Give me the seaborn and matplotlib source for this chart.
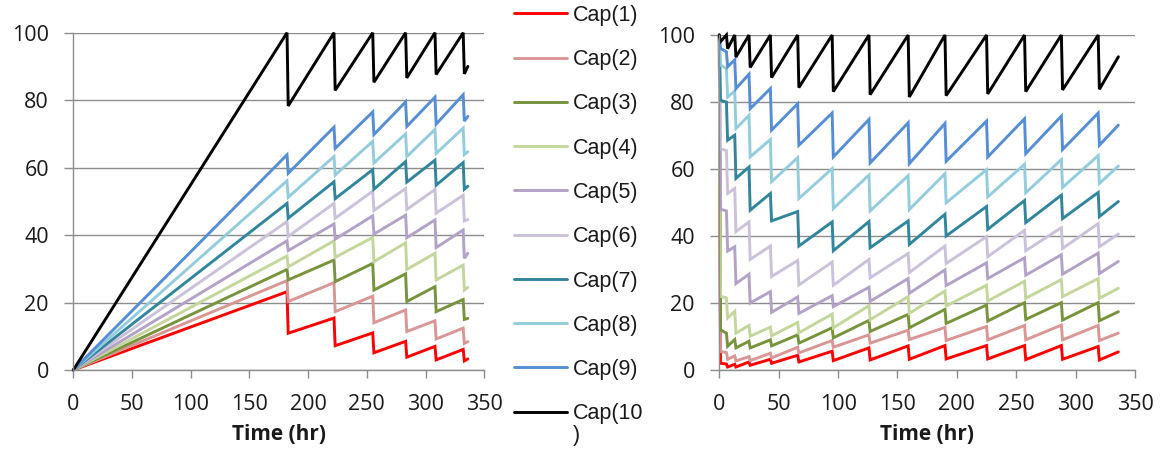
import matplotlib
matplotlib.use("Agg")
import matplotlib.pyplot as plt
import numpy as np
import pandas as pd
import seaborn as sns

# ---------------------------------------------------------------- data
series_names = ["Cap(1)", "Cap(2)", "Cap(3)", "Cap(4)", "Cap(5)",
                "Cap(6)", "Cap(7)", "Cap(8)", "Cap(9)", "Cap(10)"]
series_colors = ["#FF0000", "#D99694", "#77933C", "#C3D69B", "#B3A2C7",
                 "#CCC1DA", "#31859C", "#93CDDD", "#558ED5", "#000000"]

x_ticks = [0, 50, 100, 150, 200, 250, 300, 350]
y_ticks = [0, 20, 40, 60, 80, 100]

# Left panel: all capacities charge linearly from empty, then saw-tooth
left_drop_times = [182, 222, 255, 283, 308, 332]
left_end_time = 336
left_peaks = {
    "Cap(1)":  [23.2, 15.4, 11.0, 8.5, 7.0, 6.1],
    "Cap(2)":  [26.5, 25.9, 21.9, 17.8, 14.6, 12.4],
    "Cap(3)":  [29.8, 32.6, 31.6, 28.5, 24.7, 20.9],
    "Cap(4)":  [33.8, 38.3, 39.3, 37.7, 34.6, 31.1],
    "Cap(5)":  [38.3, 43.3, 45.7, 45.9, 44.5, 41.5],
    "Cap(6)":  [44.0, 49.4, 53.0, 53.8, 53.5, 51.8],
    "Cap(7)":  [49.4, 55.8, 59.4, 61.8, 62.2, 61.5],
    "Cap(8)":  [56.1, 63.3, 67.8, 70.0, 71.3, 71.7],
    "Cap(9)":  [63.8, 72.0, 76.5, 79.5, 80.9, 81.6],
    "Cap(10)": [100, 100, 100, 100, 100, 100],
}
left_troughs = {
    "Cap(1)":  [10.9, 7.2, 5.1, 3.8, 3.0, 2.7],
    "Cap(2)":  [20.3, 17.3, 14.0, 11.4, 9.2, 7.9],
    "Cap(3)":  [26.7, 26.2, 23.7, 20.3, 17.3, 15.0],
    "Cap(4)":  [30.6, 33.4, 32.1, 29.8, 26.7, 23.7],
    "Cap(5)":  [35.4, 38.8, 40.3, 39.2, 36.3, 33.1],
    "Cap(6)":  [39.6, 45.0, 47.3, 47.6, 46.5, 44.2],
    "Cap(7)":  [45.0, 50.8, 53.6, 55.7, 54.8, 53.6],
    "Cap(8)":  [51.2, 57.8, 61.4, 63.3, 64.2, 63.9],
    "Cap(9)":  [58.3, 65.7, 69.8, 72.2, 72.9, 73.8],
    "Cap(10)": [78.3, 82.9, 85.3, 86.6, 87.6, 87.8],
}
left_end = {
    "Cap(1)": 3.3, "Cap(2)": 8.4, "Cap(3)": 15.3, "Cap(4)": 24.5, "Cap(5)": 34.6,
    "Cap(6)": 44.6, "Cap(7)": 54.5, "Cap(8)": 64.7, "Cap(9)": 75.2, "Cap(10)": 90.0,
}

# Right panel: all capacities start full, then saw-tooth
right_drop_times = [6, 13, 25, 43, 66, 95, 126, 159, 190, 225, 257, 288, 319]
right_end_time = 336
right_first = {
    "Cap(1)": 2.0, "Cap(2)": 5.5, "Cap(3)": 12.0, "Cap(4)": 22.0, "Cap(5)": 48.0,
    "Cap(6)": 66.0, "Cap(7)": 80.5, "Cap(8)": 91.0, "Cap(9)": 96.0, "Cap(10)": 98.0,
}
right_peaks = {
    "Cap(1)":  [1.8, 1.7, 2.4, 3.2, 4.4, 5.6, 6.6, 7.2, 7.3, 7.3, 7.3, 7.3, 7.0],
    "Cap(2)":  [5.2, 4.2, 4.0, 5.0, 6.8, 8.8, 10.5, 11.9, 12.7, 13.0, 13.3, 13.4, 13.3],
    "Cap(3)":  [11.0, 9.1, 8.6, 9.0, 10.5, 12.6, 14.8, 16.6, 18.1, 19.4, 20.1, 20.1, 20.1],
    "Cap(4)":  [21.5, 17.5, 13.3, 12.8, 14.2, 16.7, 19.2, 21.9, 23.6, 25.3, 26.5, 27.0, 27.3],
    "Cap(5)":  [47.5, 36.8, 28.6, 23.4, 21.8, 22.2, 24.7, 27.3, 29.9, 32.0, 33.5, 34.4, 34.9],
    "Cap(6)":  [65.5, 54.2, 44.2, 37.0, 32.7, 32.2, 33.0, 34.8, 37.0, 39.8, 41.7, 42.5, 43.7],
    "Cap(7)":  [80.0, 70.1, 60.6, 52.7, 47.3, 44.2, 44.3, 44.5, 46.5, 48.8, 50.6, 52.2, 53.0],
    "Cap(8)":  [90.0, 83.3, 76.0, 68.8, 63.4, 60.1, 58.2, 58.0, 58.6, 59.8, 61.4, 62.8, 64.0],
    "Cap(9)":  [95.0, 92.6, 88.3, 84.0, 79.5, 76.7, 74.8, 73.8, 73.6, 74.3, 75.0, 75.8, 76.7],
    "Cap(10)": [100, 100, 100, 100, 100, 100, 100, 100, 100, 100, 100, 100, 100],
}
right_troughs = {
    "Cap(1)":  [0.9, 0.9, 1.4, 2.0, 2.4, 2.8, 3.0, 3.2, 3.3, 3.3, 3.1, 3.2, 3.0],
    "Cap(2)":  [3.2, 2.7, 2.8, 3.6, 5.1, 6.8, 8.0, 9.1, 8.8, 9.0, 9.0, 9.0, 8.8],
    "Cap(3)":  [7.1, 6.6, 6.6, 7.2, 8.0, 9.6, 11.5, 12.6, 13.9, 14.6, 15.1, 14.9, 14.7],
    "Cap(4)":  [15.5, 11.0, 10.1, 10.2, 11.1, 12.6, 15.0, 16.9, 19.1, 20.6, 21.4, 21.9, 21.4],
    "Cap(5)":  [35.5, 25.8, 20.0, 17.2, 16.9, 18.9, 20.5, 22.9, 25.2, 27.3, 28.3, 28.6, 28.8],
    "Cap(6)":  [52.7, 41.3, 33.0, 27.9, 25.4, 25.3, 27.5, 29.1, 31.8, 33.8, 35.6, 36.3, 36.8],
    "Cap(7)":  [68.6, 57.2, 47.7, 44.5, 37.0, 35.6, 36.5, 37.5, 40.0, 42.0, 44.0, 45.2, 45.8],
    "Cap(8)":  [81.5, 72.1, 63.6, 56.2, 51.2, 48.2, 47.5, 47.9, 49.9, 51.7, 52.9, 54.5, 55.7],
    "Cap(9)":  [90.5, 84.0, 78.0, 71.6, 67.1, 63.6, 61.8, 61.6, 62.3, 63.6, 64.6, 65.8, 67.1],
    "Cap(10)": [95.9, 93.4, 90.3, 87.3, 84.3, 83.1, 82.2, 81.5, 81.9, 82.4, 83.1, 83.6, 83.8],
}
right_end = {
    "Cap(1)": 5.4, "Cap(2)": 11.0, "Cap(3)": 17.4, "Cap(4)": 24.4, "Cap(5)": 32.4,
    "Cap(6)": 40.6, "Cap(7)": 50.3, "Cap(8)": 60.9, "Cap(9)": 73.1, "Cap(10)": 93.5,
}


# ---------------------------------------------------------------- helpers
def sawtooth(start, drops, peaks, troughs, end_t, end_v):
    """Polyline vertices: start points, then peak/trough pairs, then the end."""
    t = [p[0] for p in start]
    v = [p[1] for p in start]
    for d, pk, tr in zip(drops, peaks, troughs):
        t += [d, d + 1]
        v += [pk, tr]
    t.append(end_t)
    v.append(end_v)
    return t, v


def build_frame(kind):
    rows = []
    for name in series_names:
        if kind == "left":
            t, v = sawtooth([(0, 0)], left_drop_times, left_peaks[name],
                            left_troughs[name], left_end_time, left_end[name])
        else:
            t, v = sawtooth([(0, 100), (1, right_first[name])], right_drop_times,
                            right_peaks[name], right_troughs[name],
                            right_end_time, right_end[name])
        rows += [{"time": a, "cap": b, "series": name} for a, b in zip(t, v)]
    return pd.DataFrame(rows)


df_left = build_frame("left")
df_right = build_frame("right")

# ---------------------------------------------------------------- style
sns.set_style("white")
plt.rcParams["font.family"] = ["Open Sans", "DejaVu Sans"]

GRID = "#8C8C8C"
TEXT = "#1a1a1a"
W, H = 1171, 450
fig = plt.figure(figsize=(W / 100, H / 100), dpi=100)

ax_l = fig.add_axes([73.3 / W, 80 / H, 411 / W, 337.3 / H])
ax_r = fig.add_axes([719.3 / W, 80 / H, 415.7 / W, 335.0 / H])

palette = dict(zip(series_names, series_colors))

for ax, df in ((ax_l, df_left), (ax_r, df_right)):
    sns.lineplot(data=df, x="time", y="cap", hue="series", hue_order=series_names,
                 palette=palette, estimator=None, sort=False, linewidth=2.1,
                 legend=False, ax=ax)
    for ln in ax.get_lines():
        ln.set_clip_on(False)
        ln.set_solid_joinstyle("miter")
    ax.set_xlim(0, 350)
    ax.set_ylim(0, 100)
    ax.set_xticks(x_ticks)
    ax.set_yticks(y_ticks)
    ax.yaxis.grid(True, color=GRID, linewidth=1.0)
    ax.xaxis.grid(False)
    ax.set_axisbelow(True)
    for side in ("top", "right"):
        ax.spines[side].set_visible(False)
    for side in ("left", "bottom"):
        ax.spines[side].set_color(GRID)
        ax.spines[side].set_linewidth(1.0)
    ax.tick_params(axis="y", direction="out", length=6.5, width=1.0, color=GRID,
                   pad=11, labelsize=15.5, labelcolor=TEXT, left=True)
    ax.tick_params(axis="x", direction="out", length=6, width=1.0, color=GRID,
                   pad=11, labelsize=15.5, labelcolor=TEXT, bottom=True)
    ax.set_xlabel("Time (hr)", fontsize=15, fontweight="bold", labelpad=7,
                  color=TEXT)
    ax.set_ylabel("")

# ---------------------------------------------------------------- legend
LEG_FONT = {"family": "Liberation Sans", "size": 15.5}
handles = ax_l.get_lines()[:len(series_names)]
labels = series_names[:-1] + ["Cap(10"]
leg = fig.legend(handles, labels, loc="upper left",
                 bbox_to_anchor=(514 / W, 1 - 5 / H), frameon=False,
                 prop=LEG_FONT, handlelength=2.45, handletextpad=0.28,
                 labelspacing=1.08, borderpad=0, borderaxespad=0)
for ln in leg.get_lines():
    ln.set_linewidth(2.1)
for t in leg.get_texts():
    t.set_color(TEXT)

# the long last label wraps its closing parenthesis onto a second line
fig.canvas.draw()
last = leg.get_texts()[-1].get_window_extent()
fig.text(last.x0 / W, (last.y0 - 0.5) / H, ")", ha="left", va="top",
         color=TEXT, **LEG_FONT)

fig.savefig("out.png", dpi=100)
